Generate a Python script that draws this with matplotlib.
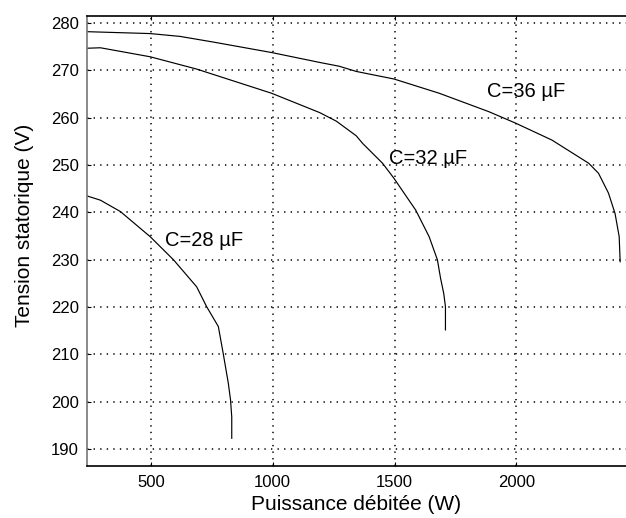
import numpy as np
import matplotlib
matplotlib.use("Agg")
import matplotlib.pyplot as plt

plt.rcParams["font.family"] = ["Liberation Sans", "DejaVu Sans"]

# Curves (power W, stator voltage V)
p36 = [238, 497, 620, 757, 995, 1193, 1273, 1343, 1498, 1683, 1887, 1996,
       2146, 2297, 2337, 2378, 2405, 2422, 2426]
v36 = [278.2, 277.8, 277.2, 276.0, 273.8, 271.7, 270.9, 269.8, 268.2, 265.2,
       261.3, 258.9, 255.3, 250.4, 248.3, 244.1, 239.8, 234.9, 229.6]

p32 = [238, 293, 497, 688, 995, 1193, 1261, 1343, 1369, 1451, 1498, 1587,
       1642, 1676, 1689, 1702, 1709, 1709]
v32 = [274.7, 274.8, 272.9, 270.3, 265.2, 261.1, 259.3, 256.2, 254.6, 250.4,
       247.2, 240.5, 234.9, 230.0, 226.1, 222.9, 220.1, 215.2]

p28 = [238, 293, 375, 497, 593, 688, 729, 777, 797, 818, 827, 832, 832]
v28 = [243.5, 242.6, 240.2, 234.9, 230.0, 224.3, 220.1, 215.9, 210.2, 203.9,
       200.4, 196.8, 192.3]

labels = ["C=36 µF", "C=32 µF", "C=28 µF"]
label_pos = [(1878, 265.5), (1477, 251.5), (559, 234.1)]

fig = plt.figure(figsize=(6.26, 5.18), dpi=100)
ax = fig.add_axes([0.139, 0.100, 0.861, 0.869])

for p, v in [(p36, v36), (p32, v32), (p28, v28)]:
    ax.plot(p, v, color="black", linewidth=0.85)

for txt, (x, y) in zip(labels, label_pos):
    ax.text(x, y, txt, fontsize=14.5, va="center", ha="left")

ax.set_xlim(238, 2450)
ax.set_ylim(186.4, 281.5)
ax.set_xticks([500, 1000, 1500, 2000])
ax.set_yticks(np.arange(190, 281, 10))
ax.grid(True, color="black", linestyle=(0, (0.9, 3.4)), linewidth=1.1)
ax.tick_params(direction="in", labelsize=12, length=3, colors="black",
               top=True, pad=6)
for s in ax.spines.values():
    s.set_linewidth(1.2)
ax.spines["right"].set_visible(False)
ax.spines["left"].set_color("#777777")

ax.set_xlabel("Puissance débitée (W)", fontsize=15, labelpad=4)
ax.set_ylabel("Tension statorique (V)", fontsize=15)
ax.yaxis.set_label_coords(-0.098, 0.536)

fig.savefig("out.png", dpi=100)
